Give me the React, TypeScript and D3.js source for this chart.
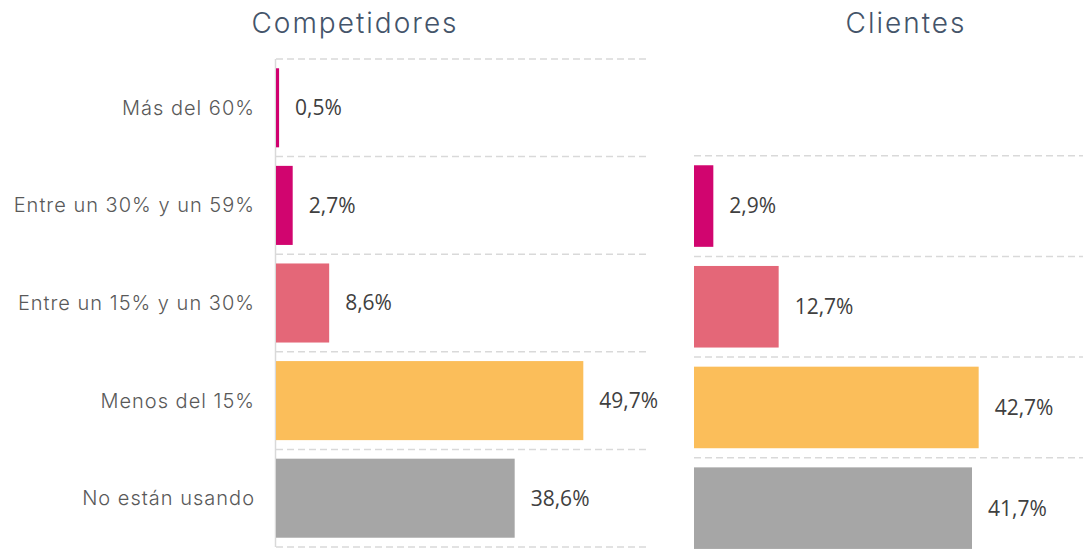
import React from 'react';
import * as d3 from 'd3';

// categories and values
const categories = ['Más del 60%', 'Entre un 30% y un 59%', 'Entre un 15% y un 30%', 'Menos del 15%', 'No están usando'];
const competidores = [0.5, 2.7, 8.6, 49.7, 38.6];
const clientes = [2.9, 12.7, 42.7, 41.7]; // no "Más del 60%" row
const colors = ['#d0006f', '#d1056f', '#e46778', '#fbbe5a', '#a6a6a6'];

const W = 1083;
const H = 554;
const gridColor = '#d9d9d9';
const fmt = (v: number) => v.toFixed(1).replace('.', ',') + '%';

type PanelProps = {
  title: string;
  titleX: number;
  cats: string[];
  values: number[];
  cols: string[];
  xRange: [number, number];
  yRange: [number, number];
  axisLine: boolean;
  showLabels: boolean;
};

const Panel = ({ title, titleX, cats, values, cols, xRange, yRange, axisLine, showLabels }: PanelProps) => {
  const x = d3.scaleLinear().domain([0, 60]).range(xRange);
  const y = d3.scaleBand<string>().domain(cats).range(yRange).paddingInner(0.19).paddingOuter(0.095);
  const step = y.step();
  const gap = step * 0.19 / 2;
  const gridYs = cats.map((c) => (y(c) as number) - gap).concat([yRange[1]]);

  return (
    <g>
      <text x={titleX} y={33} textAnchor="middle" fontFamily="Inter, 'Open Sans', sans-serif" fontWeight={300}
        fontSize={28} letterSpacing={2} fill="#44546a">{title}</text>
      {gridYs.map((gy, i) => (
        <line key={i} x1={xRange[0]} x2={xRange[1]} y1={gy} y2={gy} stroke={gridColor}
          strokeWidth={1.5} strokeDasharray="7,4" />
      ))}
      {axisLine && (
        <line x1={xRange[0] - 0.5} x2={xRange[0] - 0.5} y1={yRange[0]} y2={yRange[1]} stroke={gridColor} strokeWidth={1.5} />
      )}
      {cats.map((c, i) => {
        const by = y(c) as number;
        const bw = x(values[i]) - x(0);
        const cy = by + y.bandwidth() / 2;
        return (
          <g key={c}>
            {showLabels && (
              <text x={255} y={cy} dy="0.35em" textAnchor="end" fontFamily="Inter, 'Open Sans', sans-serif"
                fontWeight={300} fontSize={20} letterSpacing={1} fill="#595959">{c}</text>
            )}
            <rect x={x(0)} y={by} width={Math.max(bw, 2)} height={y.bandwidth()} fill={cols[i]} />
            <text x={x(0) + bw + 16} y={cy} dy="0.35em" fontFamily="'Open Sans', sans-serif" fontSize={21}
              fill="#404040">{fmt(values[i])}</text>
          </g>
        );
      })}
    </g>
  );
};

export default function App() {
  return (
    <svg width={W} height={H} style={{ position: 'absolute', left: 0, top: 0, background: '#fff' }}>
      <Panel title="Competidores" titleX={355} cats={categories} values={competidores} cols={colors}
        xRange={[276, 647]} yRange={[59, 547]} axisLine={true} showLabels={true} />
      <Panel title="Clientes" titleX={906} cats={categories.slice(1)} values={clientes} cols={colors.slice(1)}
        xRange={[694, 1094]} yRange={[155.7, 558.5]} axisLine={false} showLabels={false} />
    </svg>
  );
}
